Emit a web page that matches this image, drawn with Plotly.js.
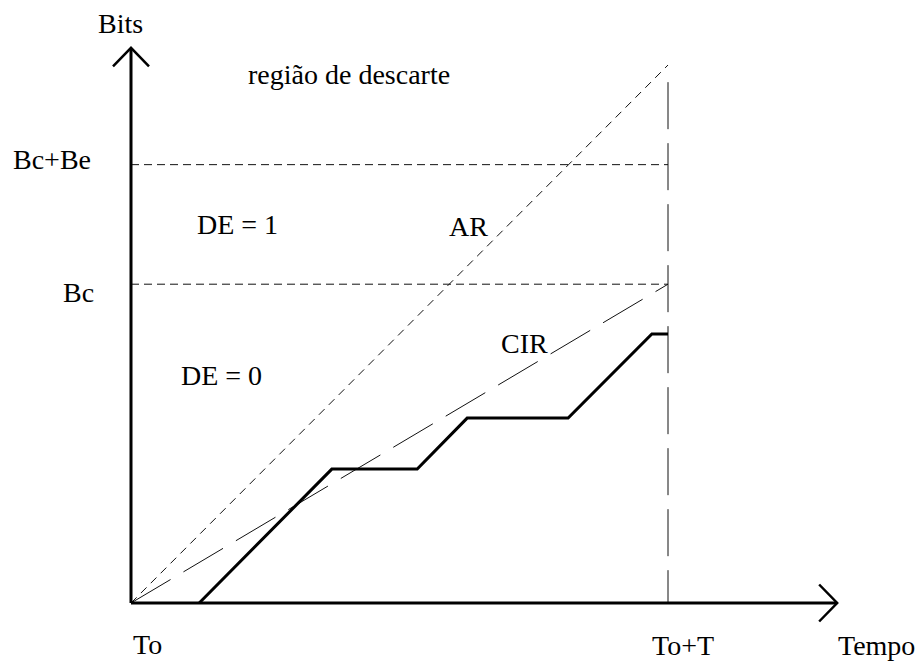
<!DOCTYPE html>
<html>
<head>
<meta charset="utf-8">
<script src="https://cdn.plot.ly/plotly-3.0.1.min.js"></script>
<style>
  html, body { margin: 0; padding: 0; background: #fff; }
  #chart { width: 921px; height: 661px; }
</style>
</head>
<body>
<div id="chart"></div>
<script>
// ---- data (time in units where To = 0 and To+T = 10; bits in arbitrary units) ----
const T_END = 10;                 // To+T
const BC = 8;                     // committed burst
const BC_BE = 11;                 // Bc + Be
const AR_AT_T = 13.5;             // access rate line value at To+T
const cirTime = [0, 10];
const cirBits = [0, 8];
const arTime = [0, 10];
const arBits = [0, 13.5];
const trafficTime = [1.27, 3.74, 5.33, 6.26, 8.14, 9.70, 10];
const trafficBits = [0, 3.36, 3.36, 4.64, 4.64, 6.75, 6.75];
const xAxisEnd = 13.15;
const yAxisEnd = 13.93;
const vLineTop = 13.07;

// ---- layout geometry (pixel mapping) ----
const W = 921, H = 661;
const ORIGIN_PX = 131, ORIGIN_PY = 603;
const SX = 53.7, SY = 39.85;
const xr = [-ORIGIN_PX / SX, (W - ORIGIN_PX) / SX];
const yr = [-(H - ORIGIN_PY) / SY, ORIGIN_PY / SY];
const AX = 18 / SX, AY = 18.5 / SY;

const thin = '#111';
function line(x, y, w, dash, color) {
  return { type: 'scatter', mode: 'lines', x: x, y: y, hoverinfo: 'skip', showlegend: false,
           line: { color: color || thin, width: w, dash: dash || 'solid' } };
}

const traces = [
  // reference lines
  line([0, T_END], [BC_BE, BC_BE], 1, '8px,5px'),
  line([0, T_END], [BC, BC], 1, '8px,5px'),
  line([T_END, T_END], [vLineTop, 0], 1, '47px,14px'),
  line(arTime, arBits, 1, '8px,6px'),
  line(cirTime, cirBits, 1, '46px,15px'),
  // traffic
  line(trafficTime, trafficBits, 3, 'solid', '#000'),
  // axes
  line([0, xAxisEnd], [0, 0], 3, 'solid', '#000'),
  line([0, 0], [0, yAxisEnd], 3, 'solid', '#000'),
  line([xAxisEnd - AX, xAxisEnd, xAxisEnd - AX], [AY, 0, -AY], 2.5, 'solid', '#000'),
  line([-AX, 0, AX], [yAxisEnd - AY, yAxisEnd, yAxisEnd - AY], 2.5, 'solid', '#000')
];

const FONT = { family: 'Liberation Serif, Times New Roman, serif', size: 28, color: '#000' };
function label(text, x, y) {
  return { text: text, x: x, y: y, xref: 'x', yref: 'y', showarrow: false,
           xanchor: 'center', yanchor: 'middle', font: FONT };
}
const annotations = [
  label('Bits', -0.19, 14.54),
  label('região de descarte', 4.06, 13.26),
  label('Bc+Be', -1.47, 11.13),
  label('Bc', -0.98, 7.78),
  label('DE = 1', 1.98, 9.49),
  label('AR', 6.29, 9.45),
  label('CIR', 7.32, 6.51),
  label('DE = 0', 1.69, 5.70),
  label('To', 0.30, -1.03),
  label('To+T', 10.28, -1.07),
  label('Tempo', 13.88, -1.07)
];

const layout = {
  width: W, height: H,
  margin: { l: 0, r: 0, t: 0, b: 0, pad: 0 },
  paper_bgcolor: '#fff', plot_bgcolor: '#fff',
  showlegend: false,
  xaxis: { range: xr, visible: false, showgrid: false, zeroline: false, fixedrange: true },
  yaxis: { range: yr, visible: false, showgrid: false, zeroline: false, fixedrange: true },
  annotations: annotations
};

Plotly.newPlot('chart', traces, layout, { staticPlot: true, displayModeBar: false });
</script>
</body>
</html>
